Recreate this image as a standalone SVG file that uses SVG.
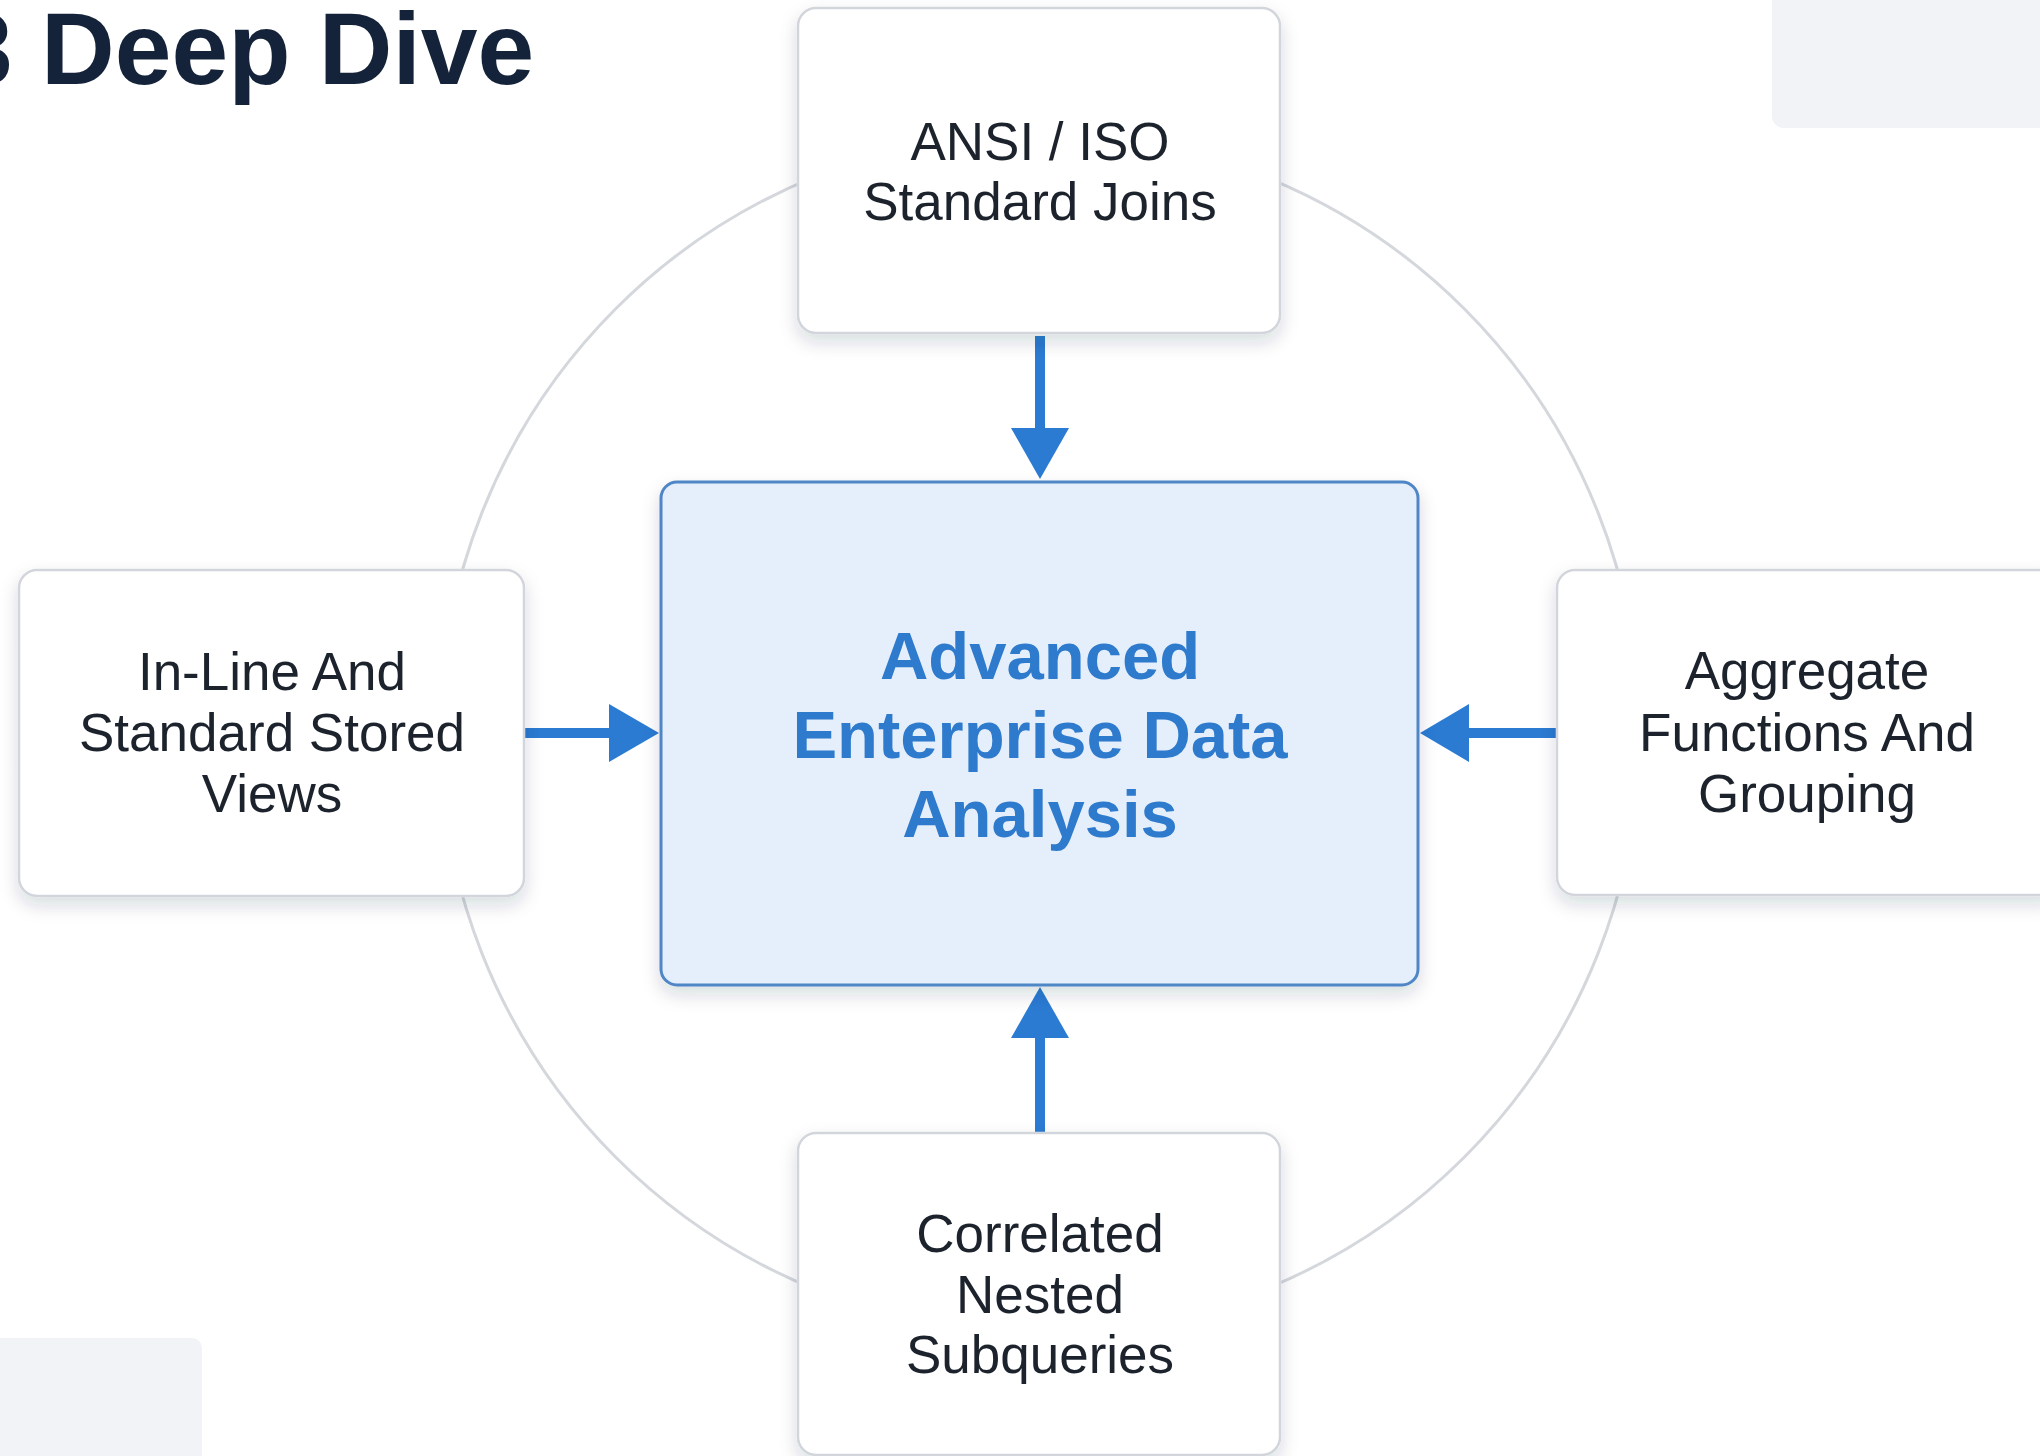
<svg xmlns="http://www.w3.org/2000/svg" width="2040" height="1456" viewBox="0 0 2040 1456">
<defs>
<filter id="sh" x="-20%" y="-20%" width="140%" height="150%">
<feDropShadow dx="0" dy="8" stdDeviation="9" flood-color="#1b2a3d" flood-opacity="0.16"/>
</filter>
<style>
.box{fill:#ffffff;stroke:#d2d6dc;stroke-width:2.5}
.center{fill:#e5effb;stroke:#4f86c6;stroke-width:3}
.lbl{font-family:"Liberation Sans",Arial,sans-serif;font-size:53px;fill:#1d232c;text-anchor:middle}
.clbl{font-family:"Liberation Sans",Arial,sans-serif;font-size:67px;font-weight:bold;fill:#2e7acd;text-anchor:middle}
.shaft{stroke:#2b7bd3;stroke-width:10;fill:none}
.head{fill:#2b7bd3}
</style>
</defs>
<rect width="2040" height="1456" fill="#ffffff"/>
<rect x="1772" y="-20" width="300" height="148" rx="12" fill="#f1f3f7"/>
<rect x="-20" y="1338" width="222" height="140" rx="10" fill="#f1f3f7"/>
<text x="-44" y="84" font-family="Liberation Sans,Arial,sans-serif" font-size="102" font-weight="bold" fill="#14233a">3 Deep Dive</text>
<circle cx="1040" cy="733" r="600" fill="none" stroke="#d4d7dc" stroke-width="3"/>
<g id="connectors">
<line class="shaft" x1="1040" y1="336" x2="1040" y2="430"/>
<polygon class="head" points="1011,428 1069,428 1040,479"/>
<line class="shaft" x1="1040" y1="1133" x2="1040" y2="1036"/>
<polygon class="head" points="1011,1038 1069,1038 1040,987"/>
<line class="shaft" x1="524" y1="733" x2="611" y2="733"/>
<polygon class="head" points="609,704 609,762 659,733"/>
<line class="shaft" x1="1557" y1="733" x2="1467" y2="733"/>
<polygon class="head" points="1469,704 1469,762 1420,733"/>
</g>
<g id="node-center">
<rect class="center" x="661" y="482" width="757" height="503" rx="16" filter="url(#sh)"/>
<text class="clbl" x="1040" y="679">Advanced</text>
<text class="clbl" x="1040" y="758">Enterprise Data</text>
<text class="clbl" x="1040" y="837">Analysis</text>
</g>
<g id="node-top">
<rect class="box" x="798" y="8" width="482" height="325" rx="18" filter="url(#sh)"/>
<text class="lbl" x="1040" y="160">ANSI / ISO</text>
<text class="lbl" x="1040" y="220">Standard Joins</text>
</g>
<g id="node-left">
<rect class="box" x="19" y="570" width="505" height="326" rx="18" filter="url(#sh)"/>
<text class="lbl" x="272" y="690">In-Line And</text>
<text class="lbl" x="272" y="751">Standard Stored</text>
<text class="lbl" x="272" y="812">Views</text>
</g>
<g id="node-right">
<rect class="box" x="1557" y="570" width="505" height="325" rx="18" filter="url(#sh)"/>
<text class="lbl" x="1807" y="689">Aggregate</text>
<text class="lbl" x="1807" y="751">Functions And</text>
<text class="lbl" x="1807" y="812">Grouping</text>
</g>
<g id="node-bottom">
<rect class="box" x="798" y="1133" width="482" height="322" rx="18" filter="url(#sh)"/>
<text class="lbl" x="1040" y="1252">Correlated</text>
<text class="lbl" x="1040" y="1313">Nested</text>
<text class="lbl" x="1040" y="1373">Subqueries</text>
</g>
</svg>
